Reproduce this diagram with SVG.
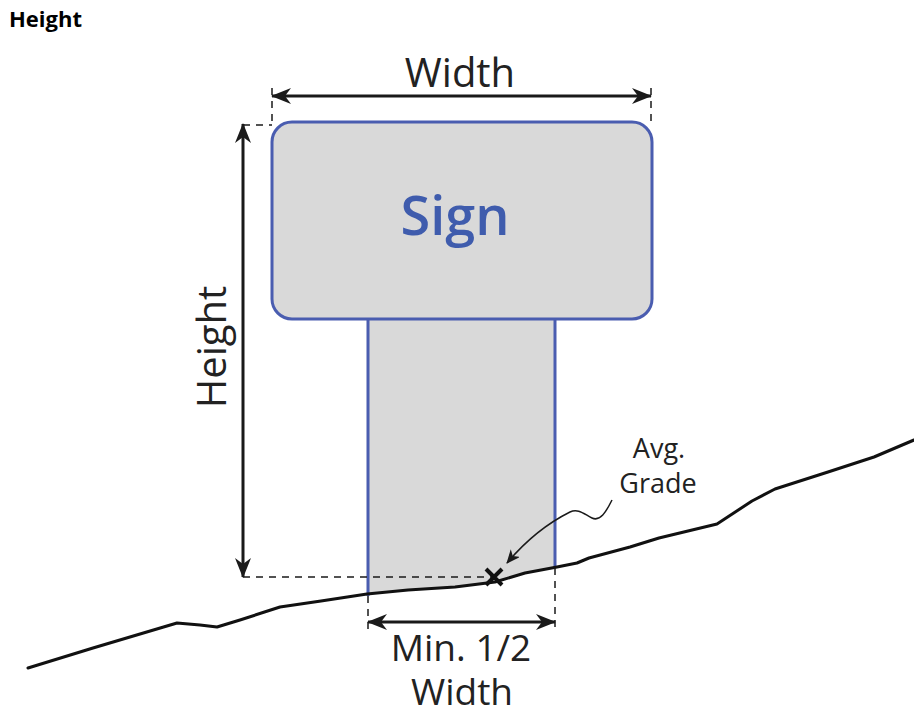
<svg xmlns="http://www.w3.org/2000/svg" width="914" height="714" viewBox="0 0 914 714">
<defs>
<marker id="ah" viewBox="0 0 20 16" refX="19" refY="8" markerWidth="20" markerHeight="16" markerUnits="userSpaceOnUse" orient="auto-start-reverse">
<path d="M0,0 L20,8 L0,16 L6,8 Z" fill="#1a1a1a"/>
</marker>
<marker id="ahs" viewBox="0 0 14 12" refX="13" refY="6" markerWidth="14" markerHeight="12" markerUnits="userSpaceOnUse" orient="auto">
<path d="M0,0 L14,6 L0,12 L4,6 Z" fill="#1a1a1a"/>
</marker>
<style>
.dim{stroke:#1a1a1a;stroke-width:3;fill:none;marker-start:url(#ah);marker-end:url(#ah)}
.dash{stroke:#1a1a1a;stroke-width:1.5;fill:none;stroke-dasharray:7 6}
.lbl{font-family:"Open Sans","Liberation Sans",sans-serif;fill:#222;text-anchor:middle}
</style>
</defs>
<rect width="914" height="714" fill="#ffffff"/>
<text x="9" y="27" font-family="'Open Sans','Liberation Sans',sans-serif" font-weight="bold" font-size="22" fill="#000">Height</text>

<g id="post">
<path d="M368,320 L555,320 L555,567 L525,573 L495,582 L455,587 L408,590 L368,595 Z" fill="#d9d9d9"/>
<line x1="368" y1="318" x2="368" y2="596" stroke="#4a5db0" stroke-width="3"/>
<line x1="555" y1="318" x2="555" y2="567" stroke="#4a5db0" stroke-width="3"/>
</g>

<g id="sign">
<rect x="272" y="122" width="380" height="197" rx="20" ry="20" fill="#d9d9d9" stroke="#4a5db0" stroke-width="3"/>
<text x="455" y="235" font-family="'Open Sans','Liberation Sans',sans-serif" font-weight="600" font-size="54" fill="#3f5cad" text-anchor="middle">Sign</text>
</g>

<g id="ground">
<path d="M28,668 L93,648 L177,623 L200,625 L217,627 L240,620 L280,607 L321,601 L367,594 L408,590 L455,587 L495,582 L525,573 L557,567 L577,563 L589,558 L630,547 L659,538 L717,524 L752,501 L775,489 L828,472 L874,457 L914,440" fill="none" stroke="#111" stroke-width="3" stroke-linejoin="round" stroke-linecap="round"/>
</g>

<g id="connectors">
<line class="dash" x1="272" y1="88" x2="272" y2="122"/>
<line class="dash" x1="651" y1="88" x2="651" y2="122"/>
<line class="dash" x1="243" y1="125" x2="272" y2="125"/>
<line class="dash" x1="243" y1="577" x2="494" y2="577"/>
<line class="dash" x1="368" y1="596" x2="368" y2="630"/>
<line class="dash" x1="555" y1="568" x2="555" y2="630"/>
<line class="dim" x1="272" y1="96" x2="651" y2="96"/>
<line class="dim" x1="243" y1="124" x2="243" y2="577"/>
<line class="dim" x1="368" y1="622" x2="555" y2="622"/>
<path d="M612,500 C606,512 600,522 592,518 C584,514 578,508 570,512 C550,522 528,538 507,563" fill="none" stroke="#1a1a1a" stroke-width="1.5" marker-end="url(#ahs)"/>
</g>

<g id="grade-mark">
<path d="M486,569 L502,585 M502,569 L486,585" stroke="#111" stroke-width="4"/>
</g>

<g id="labels">
<text class="lbl" x="461" y="661" font-size="37">Min. 1/2</text>
<text class="lbl" x="462" y="705" font-size="37">Width</text>
<text class="lbl" x="460" y="87" font-size="40">Width</text>
<text class="lbl" font-size="40" transform="translate(226,347) rotate(-90)">Height</text>
<text class="lbl" x="659" y="458" font-size="27">Avg.</text>
<text class="lbl" x="658" y="493" font-size="27">Grade</text>
</g>
</svg>
